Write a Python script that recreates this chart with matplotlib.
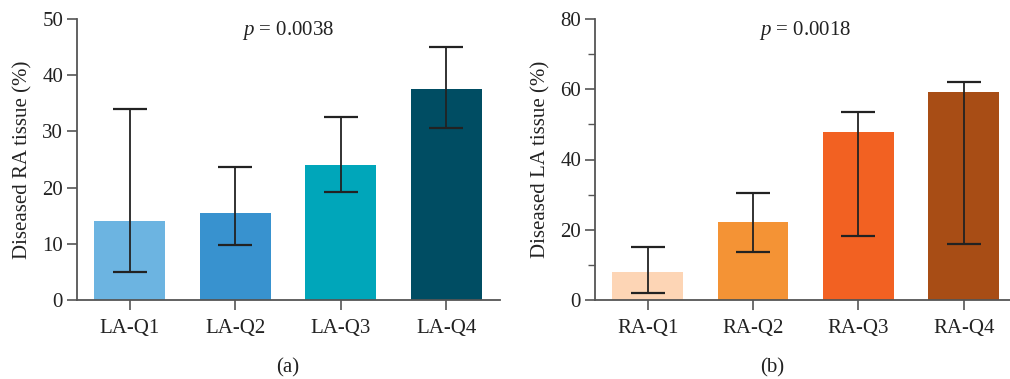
import matplotlib
matplotlib.use("Agg")
import matplotlib.pyplot as plt
from matplotlib.ticker import MultipleLocator
import numpy as np

plt.rcParams['font.family'] = ['Liberation Serif', 'DejaVu Serif']
plt.rcParams['mathtext.fontset'] = 'custom'
plt.rcParams['mathtext.rm'] = 'Liberation Serif'
plt.rcParams['mathtext.it'] = 'Liberation Serif:italic'

# Panel (a)
la_labels = ["LA-Q1", "LA-Q2", "LA-Q3", "LA-Q4"]
la_values = [14.0, 15.4, 24.0, 37.6]
la_lower = [5.0, 9.8, 19.3, 30.6]
la_upper = [34.0, 23.7, 32.6, 45.0]
la_colors = ["#6CB4E1", "#3892CF", "#00A6BA", "#004D63"]

# Panel (b)
ra_labels = ["RA-Q1", "RA-Q2", "RA-Q3", "RA-Q4"]
ra_values = [8.1, 22.3, 47.7, 59.1]
ra_lower = [2.0, 13.8, 18.3, 16.0]
ra_upper = [15.0, 30.4, 53.5, 62.0]
ra_colors = ["#FDD5B5", "#F49335", "#F26122", "#A84D15"]

W, H = 1010, 379
fig = plt.figure(figsize=(W / 100, H / 100), dpi=100)

def px_axes(x0, x1, y_top, y_bot):
    return fig.add_axes([x0 / W, 1 - y_bot / H, (x1 - x0) / W, (y_bot - y_top) / H])

spine_c = "#555555"
err_c = "#222222"
txt_c = "#222222"

def draw(ax, labels, vals, lo, hi, colors, ymax, major, minor, ylabel, ptxt, xlim_right):
    x = np.arange(len(vals))
    ax.bar(x, vals, width=0.67, color=colors, zorder=1)
    vals_a = np.array(vals)
    yerr = np.vstack([vals_a - np.array(lo), np.array(hi) - vals_a])
    ax.errorbar(x, vals, yerr=yerr, fmt='none', ecolor=err_c, elinewidth=1.3,
                capsize=12.5, capthick=1.6, zorder=3)
    ax.set_xlim(-0.5, xlim_right)
    ax.set_ylim(0, ymax)
    ax.set_xticks(x)
    ax.set_xticklabels(labels)
    ax.yaxis.set_major_locator(MultipleLocator(major))
    if minor:
        ax.yaxis.set_minor_locator(MultipleLocator(minor))
    ax.tick_params(axis='both', which='major', direction='out', length=7, width=1.2,
                   colors=spine_c, labelsize=15, labelcolor=txt_c, pad=3)
    ax.tick_params(axis='y', which='minor', direction='out', length=5, width=1.0, colors=spine_c)
    ax.tick_params(axis='x', pad=7)
    for s in ['top', 'right']:
        ax.spines[s].set_visible(False)
    for s in ['left', 'bottom']:
        ax.spines[s].set_color(spine_c)
        ax.spines[s].set_linewidth(1.3)
    ax.set_ylabel(ylabel, fontsize=15, color=txt_c, labelpad=7)
    ax.text(1.5, ymax * 0.96, ptxt, ha='center', va='center', fontsize=15, color=txt_c)

ax1 = px_axes(77, 500, 19, 300)
draw(ax1, la_labels, la_values, la_lower, la_upper, la_colors, 50, 10, None,
     "Diseased RA tissue (%)", r"$p$ = 0.0038", 3.51)

ax2 = px_axes(595, 1010, 19, 300)
draw(ax2, ra_labels, ra_values, ra_lower, ra_upper, ra_colors, 80, 20, 10,
     "Diseased LA tissue (%)", r"$p$ = 0.0018", 3.44)

fig.text(288 / W, 1 - 368 / H, "(a)", ha='center', va='center', fontsize=15, color=txt_c)
fig.text(772 / W, 1 - 368 / H, "(b)", ha='center', va='center', fontsize=15, color=txt_c)

fig.savefig("out.png", dpi=100)
